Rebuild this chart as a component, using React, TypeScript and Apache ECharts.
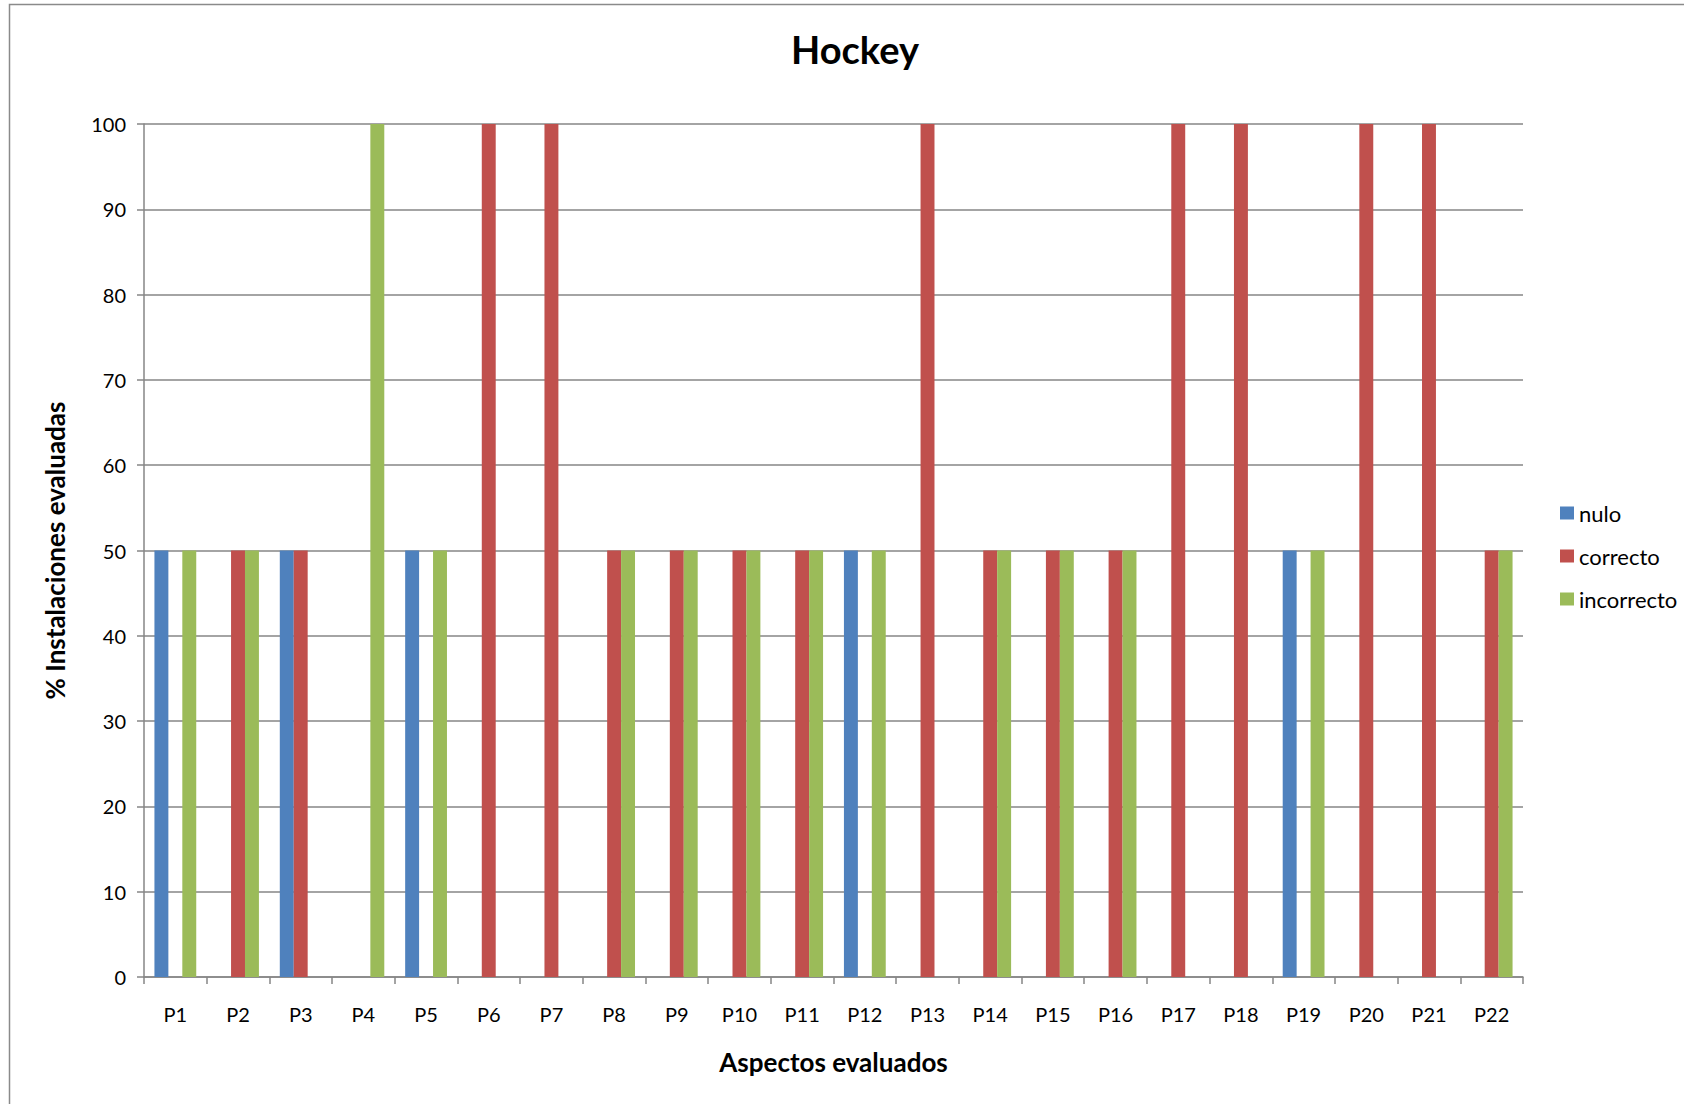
import React, { useEffect, useRef } from "react";
import * as echarts from "echarts";

const categories = ["P1","P2","P3","P4","P5","P6","P7","P8","P9","P10","P11","P12","P13","P14","P15","P16","P17","P18","P19","P20","P21","P22"];
const nulo =       [50, 0, 50, 0, 50, 0, 0, 0, 0, 0, 0, 50, 0, 0, 0, 0, 0, 0, 50, 0, 0, 0];
const correcto =   [0, 50, 50, 0, 0, 100, 100, 50, 50, 50, 50, 0, 100, 50, 50, 50, 100, 100, 0, 100, 100, 50];
const incorrecto = [50, 50, 0, 100, 50, 0, 0, 50, 50, 50, 50, 50, 0, 50, 50, 50, 0, 0, 50, 0, 0, 50];
const seriesNames = ["nulo", "correcto", "incorrecto"];
const yTicks = { min: 0, max: 100, interval: 10 };

const FONT = "Lato, 'Open Sans', sans-serif";
const GRAY = "#868686";

export default function App() {
  const ref = useRef<HTMLDivElement>(null);
  useEffect(() => {
    if (!ref.current) return;
    const chart = echarts.init(ref.current, null, { renderer: "svg" });
    const colors = ["#4F81BD", "#C0504D", "#9BBB59"];
    const data = [nulo, correcto, incorrecto];
    chart.setOption({
      animation: false,
      backgroundColor: "#ffffff",
      textStyle: { fontFamily: FONT },
      title: {
        text: "Hockey",
        left: 850,
        textAlign: "center",
        top: 25,
        textStyle: { fontFamily: FONT, fontSize: 38, fontWeight: "bold", color: "#000" },
      },
      graphic: [
        {
          type: "rect",
          shape: { x: 9.5, y: 4.5, width: 2000, height: 2000 },
          style: { fill: "none", stroke: "#8a8a8a", lineWidth: 1.5 },
          silent: true,
          z: -1,
        },
      ],
      legend: {
        orient: "vertical",
        left: 1555,
        top: 497,
        itemWidth: 14,
        itemHeight: 13,
        itemGap: 21,
        icon: "rect",
        itemStyle: { borderWidth: 0 },
        textStyle: { fontFamily: FONT, fontSize: 22, color: "#000" },
        data: seriesNames,
      },
      grid: { left: 144, right: 161, top: 124, bottom: 127, containLabel: false },
      xAxis: {
        type: "category",
        data: categories,
        name: "Aspectos evaluados",
        nameLocation: "middle",
        nameGap: 72,
        nameTextStyle: { fontFamily: FONT, fontSize: 26, fontWeight: "bold", color: "#000" },
        axisLine: { lineStyle: { color: GRAY, width: 1.5 } },
        axisTick: { show: true, alignWithLabel: false, length: 7, lineStyle: { color: GRAY, width: 1.5 } },
        axisLabel: { fontFamily: FONT, fontSize: 20, color: "#000", margin: 27, interval: 0 },
      },
      yAxis: {
        type: "value",
        min: yTicks.min,
        max: yTicks.max,
        interval: yTicks.interval,
        name: "% Instalaciones evaluadas",
        nameLocation: "middle",
        nameGap: 76,
        nameRotate: 90,
        nameTextStyle: { fontFamily: FONT, fontSize: 26, fontWeight: "bold", color: "#000" },
        axisLine: { show: true, lineStyle: { color: GRAY, width: 1.5 } },
        axisTick: { show: true, length: 7, lineStyle: { color: GRAY, width: 1.5 } },
        axisLabel: { fontFamily: FONT, fontSize: 20, color: "#000", margin: 18 },
        splitLine: { show: true, lineStyle: { color: GRAY, width: 1.5 } },
      },
      series: seriesNames.map((n, i) => ({
        name: n,
        type: "bar",
        data: data[i],
        barGap: "0%",
        barCategoryGap: "33.3%",
        itemStyle: { color: colors[i] },
      })),
    });
    return () => chart.dispose();
  }, []);
  return <div ref={ref} style={{ position: "fixed", left: 0, top: 0, width: 1684, height: 1104 }} />;
}
